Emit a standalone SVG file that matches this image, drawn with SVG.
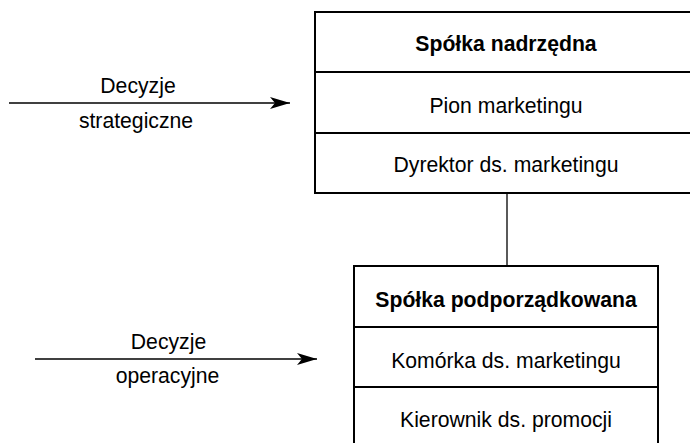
<svg xmlns="http://www.w3.org/2000/svg" width="690" height="443" viewBox="0 0 690 443">
<defs>
<style>
.box{fill:#fff;stroke:#000;stroke-width:2}
.sep{stroke:#000;stroke-width:2}
.t{font-family:"Liberation Sans",Arial,sans-serif;font-size:21.2px;fill:#000;text-anchor:middle}
.b{font-weight:bold}
.conn{stroke:#000;stroke-width:1.5;fill:none}
</style>
<marker id="ah" markerWidth="22" markerHeight="14" refX="20" refY="7" orient="auto" markerUnits="userSpaceOnUse">
<path d="M0,1 L20,7 L0,13 L5,7 Z" fill="#000"/>
</marker>
</defs>
<rect width="690" height="443" fill="#fff"/>
<g id="connectors">
<line class="conn" x1="507" y1="193" x2="507" y2="266" style="stroke-width:1.3"/>
<line class="conn" x1="9" y1="103" x2="290" y2="103" marker-end="url(#ah)"/>
<line class="conn" x1="35" y1="359" x2="317" y2="359" marker-end="url(#ah)"/>
</g>
<g id="spolka-nadrzedna">
<rect class="box" x="315" y="12" width="390" height="181"/>
<line class="sep" x1="315" y1="72" x2="690" y2="72"/>
<line class="sep" x1="315" y1="133" x2="690" y2="133"/>
<text class="t b" x="506" y="50.5">Spółka nadrzędna</text>
<text class="t" x="506" y="113">Pion marketingu</text>
<text class="t" x="506" y="171.5">Dyrektor ds. marketingu</text>
</g>
<g id="spolka-podporzadkowana">
<rect class="box" x="354" y="266" width="304" height="190"/>
<line class="sep" x1="354" y1="327" x2="658" y2="327"/>
<line class="sep" x1="354" y1="387" x2="658" y2="387"/>
<text class="t b" x="506" y="306.5">Spółka podporządkowana</text>
<text class="t" x="506" y="368">Komórka ds. marketingu</text>
<text class="t" x="506" y="427">Kierownik ds. promocji</text>
</g>
<g id="label-strategiczne">
<text class="t" x="138" y="93">Decyzje</text>
<text class="t" x="136" y="128">strategiczne</text>
</g>
<g id="label-operacyjne">
<text class="t" x="168.5" y="349">Decyzje</text>
<text class="t" x="167.5" y="383">operacyjne</text>
</g>
</svg>
